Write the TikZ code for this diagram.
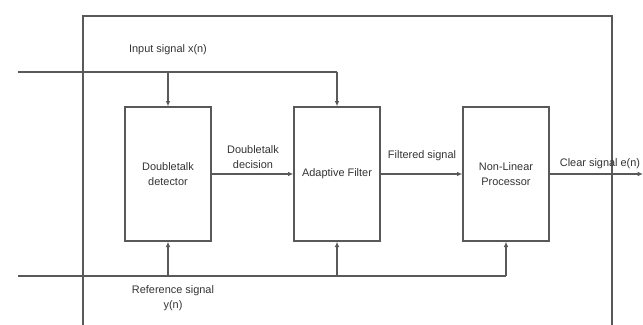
\documentclass[tikz,border=0pt]{standalone}
\usepackage{fontspec}
\setmainfont{Liberation Sans}
\usetikzlibrary{arrows.meta}
\begin{document}
\begin{tikzpicture}[x=0.75pt,y=-0.75pt,
  line/.style={draw=black!65, line width=1pt},
  arr/.style={line, -{Latex[length=4pt,width=3.5pt]}},
  blk/.style={draw=black!65, line width=1pt, minimum width=64.5pt, minimum height=100.5pt, inner sep=0pt, align=center, font=\fontsize{8.2}{11}\selectfont, text=black!80},
  lbl/.style={font=\fontsize{8.2}{11.5}\selectfont, text=black!80, align=center, inner sep=0pt}]
\useasboundingbox (0,0) rectangle (643,325);
% outer frame
\draw[line] (83,330) -- (83,16) -- (612,16) -- (612,330);
% blocks
\node[blk] (det) at (168,174) {Doubletalk\\detector};
\node[blk] (af) at (337,174) {Adaptive Filter};
\node[blk] (nlp) at (506,174) {Non-Linear\\Processor};
% input signal
\coordinate (inL) at (18,72);
\coordinate (inJ) at (168,72);
\coordinate (inR) at (337,72);
\draw[line] (inL) -- (inR);
\draw[arr] (inJ) -- (det.north);
\draw[arr] (inR) -- (af.north);
% reference signal
\coordinate (refL) at (18,276);
\coordinate (refJ) at (168,276);
\coordinate (refM) at (337,276);
\coordinate (refR) at (506,276);
\draw[line] (refL) -- (refR);
\draw[arr] (refJ) -- (det.south);
\draw[arr] (refM) -- (af.south);
\draw[arr] (refR) -- (nlp.south);
% forward path
\coordinate (out) at (643,174);
\draw[arr] (det.east) -- (af.west);
\draw[arr] (af.east) -- (nlp.west);
\draw[arr] (nlp.east) -- (out);
% labels
\node[lbl] (linput) at (168,50) {Input signal x(n)};
\node[lbl] (ldec) at (253,157) {Doubletalk\\decision};
\node[lbl] (lfilt) at (422,156) {Filtered signal};
\node[lbl] (lclear) at (600,164) {Clear signal e(n)};
\node[lbl] (lref) at (173,298) {Reference signal\\y(n)};
\end{tikzpicture}
\end{document}
